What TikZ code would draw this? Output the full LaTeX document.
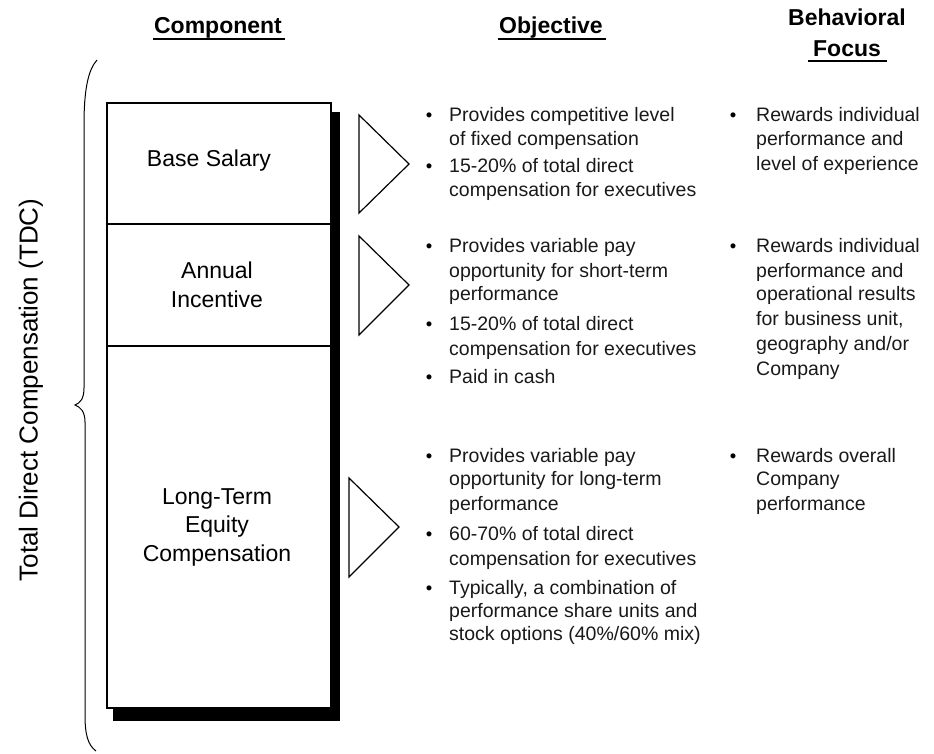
\documentclass[tikz,border=0pt]{standalone}
\usepackage{fontspec}
\setmainfont{Liberation Sans}
\begin{document}
\begin{tikzpicture}[x=1pt,y=-1pt,
  head/.style={inner sep=0pt, anchor=base, font=\fontsize{23}{27}\selectfont\bfseries},
  uline/.style={line width=2pt},
  lab/.style={inner sep=0pt, align=center, font=\fontsize{23}{28.5}\selectfont},
  txt/.style={inner sep=0pt, anchor=base west, text=black!90, font=\fontsize{19.5}{23}\selectfont},
  dot/.style={inner sep=0pt, anchor=base, font=\fontsize{18.5}{23}\selectfont},
  part/.style={draw, line width=1.2pt},
  tri/.style={draw, fill=white, line width=1.2pt, line join=miter}]
\useasboundingbox (0,0) rectangle (934,753);
% headers
\node[head] (hcomp) at (218,33) {Component};
\draw[uline] ([xshift=-1pt,yshift=-6pt]hcomp.base west) -- ([xshift=3pt,yshift=-6pt]hcomp.base east);
\node[head] (hobj) at (551,33) {Objective};
\draw[uline] ([xshift=-1pt,yshift=-6pt]hobj.base west) -- ([xshift=3pt,yshift=-6pt]hobj.base east);
\node[head] (hbeh) at (847,25) {Behavioral};
\node[head] (hfoc) at (847,56) {Focus};
\draw[uline] ([xshift=-5pt,yshift=-5pt]hfoc.base west) -- ([xshift=6pt,yshift=-5pt]hfoc.base east);
% brace and side label
\draw[line width=1pt] (97,60) .. controls (88,70) and (84,90) .. (84,125) -- (84,388)
  .. controls (84,399) and (80,403) .. (75,405) .. controls (80,407) and (85,411) .. (85,422)
  -- (85,715) .. controls (85,735) and (88,745) .. (96,751);
\node[inner sep=0pt, rotate=90, font=\fontsize{26}{30}\selectfont] (tdc) at (31,390) {Total Direct Compensation (TDC)};
% stacked box with shadow
\fill (113,112) rectangle (340,721);
\draw[part, fill=white] (107,103) rectangle (331,708);
\draw[part] (107,224) -- (331,224);
\draw[part] (107,346) -- (331,346);
\node[lab] (bs) at (209,161) {Base Salary};
\node[lab] (ai) at (217,285) {Annual\\Incentive};
\node[lab] (lt) at (217,527) {Long-Term\\Equity\\Compensation};
% triangles
\draw[tri] (359,115) -- (409,164) -- (359,213) -- cycle;
\draw[tri] (359,236) -- (409,285) -- (359,335) -- cycle;
\draw[tri] (349,478) -- (399,527) -- (349,577) -- cycle;
% objective column
\node[dot] (od1) at (429,121) {•};
\node[txt] (o1a) at (449,121) {Provides competitive level};
\node[txt] (o1b) at (449,145) {of fixed compensation};
\node[dot] (od2) at (429,172.5) {•};
\node[txt] (o2a) at (449,172.5) {15-20\% of total direct};
\node[txt] (o2b) at (449,196.5) {compensation for executives};
\node[dot] (od3) at (429,252.5) {•};
\node[txt] (o3a) at (449,252.5) {Provides variable pay};
\node[txt] (o3b) at (449,277.5) {opportunity for short-term};
\node[txt] (o3c) at (449,300.5) {performance};
\node[dot] (od4) at (429,330.5) {•};
\node[txt] (o4a) at (449,330.5) {15-20\% of total direct};
\node[txt] (o4b) at (449,355.5) {compensation for executives};
\node[dot] (od5) at (429,383.5) {•};
\node[txt] (o5a) at (449,383.5) {Paid in cash};
\node[dot] (od6) at (429,462.5) {•};
\node[txt] (o6a) at (449,462.5) {Provides variable pay};
\node[txt] (o6b) at (449,485.5) {opportunity for long-term};
\node[txt] (o6c) at (449,510.5) {performance};
\node[dot] (od7) at (429,540.5) {•};
\node[txt] (o7a) at (449,540.5) {60-70\% of total direct};
\node[txt] (o7b) at (449,565.5) {compensation for executives};
\node[dot] (od8) at (429,594.5) {•};
\node[txt] (o8a) at (449,594.5) {Typically, a combination of};
\node[txt] (o8b) at (449,617.5) {performance share units and};
\node[txt] (o8c) at (449,640.5) {stock options (40\%/60\% mix)};
% behavioral column
\node[dot] (bd1) at (733,121) {•};
\node[txt] (b1a) at (756,121) {Rewards individual};
\node[txt] (b1b) at (756,145.5) {performance and};
\node[txt] (b1c) at (756,170.5) {level of experience};
\node[dot] (bd2) at (733,252.5) {•};
\node[txt] (b2a) at (756,252.5) {Rewards individual};
\node[txt] (b2b) at (756,277.5) {performance and};
\node[txt] (b2c) at (756,300.5) {operational results};
\node[txt] (b2d) at (756,325.5) {for business unit,};
\node[txt] (b2e) at (756,350.5) {geography and/or};
\node[txt] (b2f) at (756,375.5) {Company};
\node[dot] (bd3) at (733,462.5) {•};
\node[txt] (b3a) at (756,462.5) {Rewards overall};
\node[txt] (b3b) at (756,485.5) {Company};
\node[txt] (b3c) at (756,510.5) {performance};
\end{tikzpicture}
\end{document}
